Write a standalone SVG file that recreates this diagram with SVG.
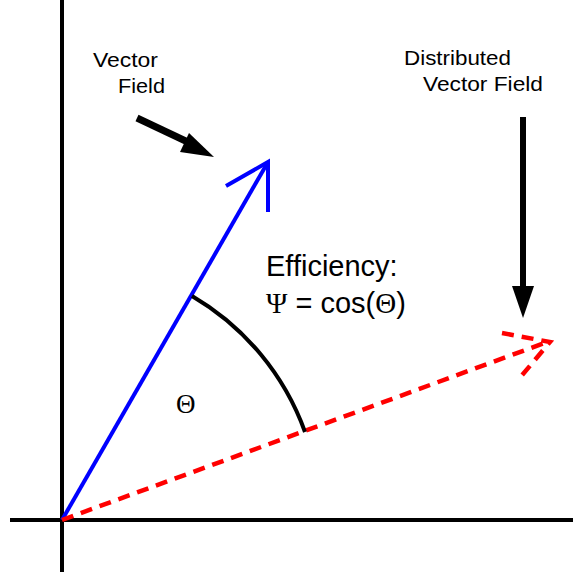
<svg xmlns="http://www.w3.org/2000/svg" width="573" height="574" viewBox="0 0 573 574">
<style>
.t{font-family:"Liberation Sans",Arial,sans-serif;fill:#000}
.s{font-family:"Liberation Serif","Times New Roman",serif}
.ax{stroke:#000;stroke-width:4;fill:none}
.blue{stroke:#0000ff;stroke-width:4;fill:none;stroke-linecap:butt}
.red{stroke:#ff0000;stroke-width:4.5;fill:none;stroke-dasharray:12 8}
</style>
<rect width="573" height="574" fill="#fff"/>
<g id="axes">
<line class="ax" x1="62" y1="0" x2="62" y2="572"/>
<line class="ax" x1="10" y1="520" x2="573" y2="520"/>
</g>
<g id="connectors">
<g id="blue-vector">
<line class="blue" x1="62" y1="520" x2="268" y2="162"/>
<polyline class="blue" points="226,186 268,162 268,212"/>
</g>
<g id="red-vector">
<line class="red" x1="62" y1="520" x2="550" y2="341"/>
<polyline class="red" points="502,333 550,342 518,380"/>
</g>
<g id="angle-arc">
<path d="M192,296 A259,259 0 0 1 305,432" stroke="#000" stroke-width="4" fill="none"/>
</g>
<g id="vf-arrow">
<line x1="137" y1="118" x2="192" y2="144" stroke="#000" stroke-width="7"/>
<polygon points="214,157 180,152 189,133" fill="#000"/>
</g>
<g id="dvf-arrow">
<line x1="523" y1="117" x2="523" y2="290" stroke="#000" stroke-width="6"/>
<polygon points="512,286 534,286 523,318" fill="#000"/>
</g>
</g>
<g id="label-vf">
<text class="t" x="93" y="67" font-size="21" textLength="65" lengthAdjust="spacingAndGlyphs">Vector</text>
<text class="t" x="118" y="93" font-size="21" textLength="47" lengthAdjust="spacingAndGlyphs">Field</text>
</g>
<g id="label-dvf">
<text class="t" x="404" y="65" font-size="21" textLength="107" lengthAdjust="spacingAndGlyphs">Distributed</text>
<text class="t" x="423" y="91" font-size="21" textLength="120" lengthAdjust="spacingAndGlyphs">Vector Field</text>
</g>
<g id="label-eff">
<text class="t" x="266" y="276" font-size="29">Efficiency:</text>
<text class="t" x="266" y="313" font-size="29"><tspan class="s">Ψ</tspan> = cos(<tspan class="s">Θ</tspan>)</text>
</g>
<g id="label-theta">
<text class="t s" x="176" y="413" font-size="27">Θ</text>
</g>
</svg>
